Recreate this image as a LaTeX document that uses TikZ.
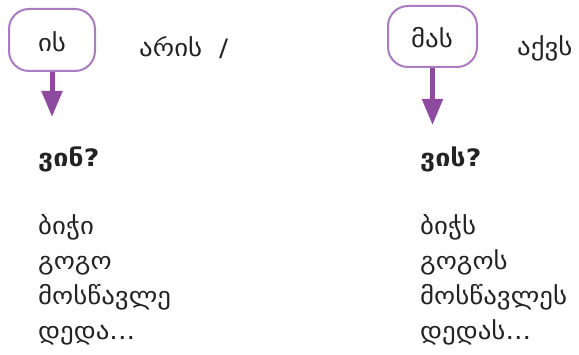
\documentclass[tikz,border=0pt]{standalone}
\usepackage{fontspec}
\setmainfont{DejaVu Sans}[FakeStretch=1.12]
\usetikzlibrary{arrows.meta}
\definecolor{boxpurple}{RGB}{170,125,192}
\definecolor{arrpurple}{RGB}{142,74,158}
\definecolor{txt}{RGB}{35,35,35}
\begin{document}
\begin{tikzpicture}[x=1pt,y=-1pt,
  pronbox/.style={draw=boxpurple,line width=2pt,rounded corners=20pt,minimum height=62pt},
  boxtext/.style={anchor=base,font=\fontsize{24}{28}\selectfont,text=txt,inner sep=0pt},
  word/.style={anchor=base west,font=\fontsize{24}{28}\selectfont,text=txt,inner sep=0pt},
  qword/.style={anchor=base west,font=\bfseries\fontsize{24}{28}\selectfont,text=txt,inner sep=0pt},
  downarrow/.style={draw=arrpurple,line width=5pt,-{Triangle[length=26pt,width=20pt]}}]
\useasboundingbox (0,0) rectangle (579,355);
\node[pronbox,minimum width=86pt] (is) at (52,40) {};
\node[pronbox,minimum width=89pt,minimum height=61pt] (mas) at (432.5,36.5) {};
\node[boxtext] (istext) at (52,52) {ის};
\node[boxtext] (mastext) at (432,48) {მას};
\coordinate (isend) at (52,117);
\coordinate (masend) at (432.5,125);
\draw[downarrow] (is.south) -- (isend);
\draw[downarrow] (mas.south) -- (masend);
\node[word] (aris) at (139,57) {არის};
\node[word] (slash) at (219,57) {/};
\node[word] (akvs) at (517,56) {აქვს};
\node[qword] (vin) at (38,167) {ვინ?};
\node[qword] (vis) at (420,167) {ვის?};
\node[word] (l1) at (38,235) {ბიჭი};
\node[word] (l2) at (38,270) {გოგო};
\node[word] (l3) at (38,305) {მოსწავლე};
\node[word] (l4) at (38,340) {დედა...};
\node[word] (r1) at (420,235) {ბიჭს};
\node[word] (r2) at (420,270) {გოგოს};
\node[word] (r3) at (420,305) {მოსწავლეს};
\node[word] (r4) at (420,340) {დედას...};
\end{tikzpicture}
\end{document}
